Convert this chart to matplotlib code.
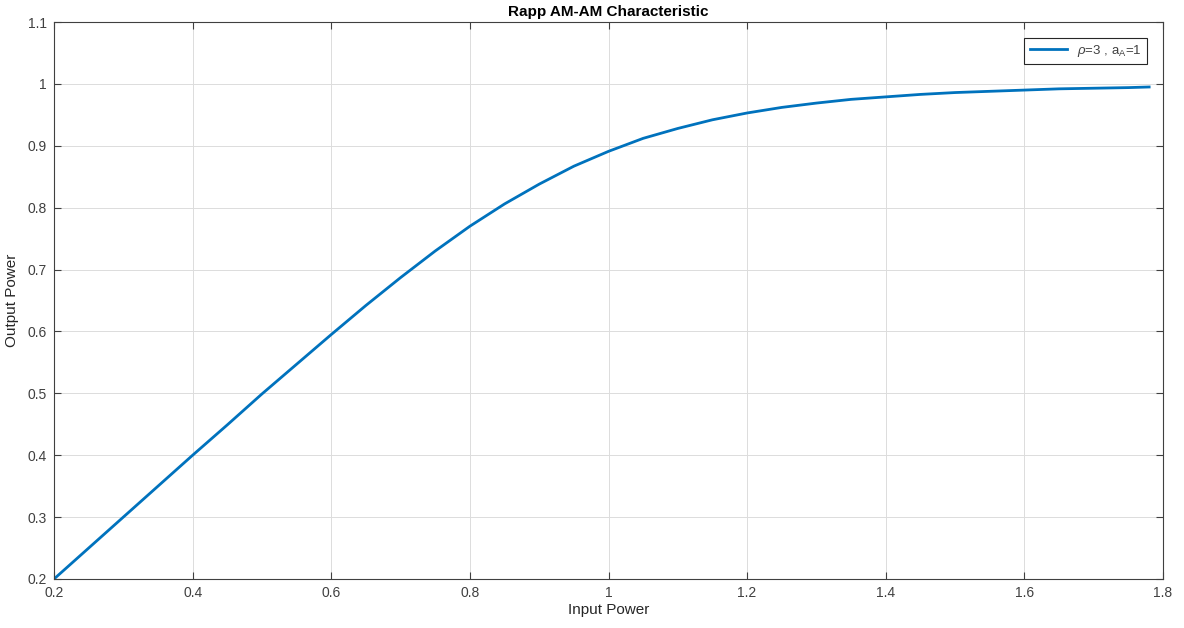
import matplotlib
matplotlib.use("Agg")
import matplotlib.pyplot as plt

plt.rcParams['font.family'] = ['Liberation Sans', 'DejaVu Sans']
plt.rcParams['mathtext.fontset'] = 'custom'
plt.rcParams['mathtext.rm'] = 'Liberation Sans'
plt.rcParams['mathtext.it'] = 'Liberation Sans:italic'

# values
input_power = [0.2, 0.25, 0.3, 0.35, 0.4, 0.45, 0.5, 0.55, 0.6, 0.65, 0.7, 0.75, 0.8, 0.85,
               0.9, 0.95, 1.0, 1.05, 1.1, 1.15, 1.2, 1.25, 1.3, 1.35, 1.4, 1.45, 1.5, 1.55,
               1.6, 1.65, 1.7, 1.75, 1.78]
output_power = [0.200, 0.250, 0.300, 0.350, 0.400, 0.449, 0.499, 0.547, 0.595, 0.642, 0.687,
                0.730, 0.770, 0.806, 0.838, 0.867, 0.891, 0.912, 0.928, 0.942, 0.953, 0.962,
                0.969, 0.975, 0.979, 0.983, 0.986, 0.988, 0.990, 0.992, 0.993, 0.994, 0.995]

xticks = [0.2, 0.4, 0.6, 0.8, 1.0, 1.2, 1.4, 1.6, 1.8]
xtick_labels = ['0.2', '0.4', '0.6', '0.8', '1', '1.2', '1.4', '1.6', '1.8']
yticks = [0.2, 0.3, 0.4, 0.5, 0.6, 0.7, 0.8, 0.9, 1.0, 1.1]
ytick_labels = ['0.2', '0.3', '0.4', '0.5', '0.6', '0.7', '0.8', '0.9', '1', '1.1']

fig = plt.figure(figsize=(11.84, 6.28), dpi=100)
ax = fig.add_axes([54 / 1184, 1 - 579 / 628, (1163 - 54) / 1184, (579 - 22) / 628])

ax.plot(input_power, output_power, color='#0072BD', linewidth=2.0,
        label=r'$\rho$=3 , a$_\mathrm{A}$=1')

ax.set_xlim(0.2, 1.8)
ax.set_ylim(0.2, 1.1)
ax.set_xticks(xticks)
ax.set_xticklabels(xtick_labels)
ax.set_yticks(yticks)
ax.set_yticklabels(ytick_labels)
ax.tick_params(direction='in', top=True, right=True, length=5, width=0.8,
               labelsize=10, colors='#404040', pad=5)
ax.grid(True, color='#dcdcdc', linewidth=0.7)
ax.set_axisbelow(True)
for s in ax.spines.values():
    s.set_color('#404040')
    s.set_linewidth(0.8)

ax.set_title('Rapp AM-AM Characteristic', fontsize=11, fontweight='bold', pad=4)
ax.set_xlabel('Input Power', fontsize=11, color='#262626', labelpad=2)
ax.set_ylabel('Output Power', fontsize=11, color='#262626', labelpad=6)

leg = ax.legend(loc='upper right', fontsize=9.5, fancybox=False, framealpha=1,
                edgecolor='#262626', handlelength=2.8, borderaxespad=1.2)
leg.get_frame().set_linewidth(0.8)
for t in leg.get_texts():
    t.set_color('#404040')

fig.savefig('out.png', dpi=100)
